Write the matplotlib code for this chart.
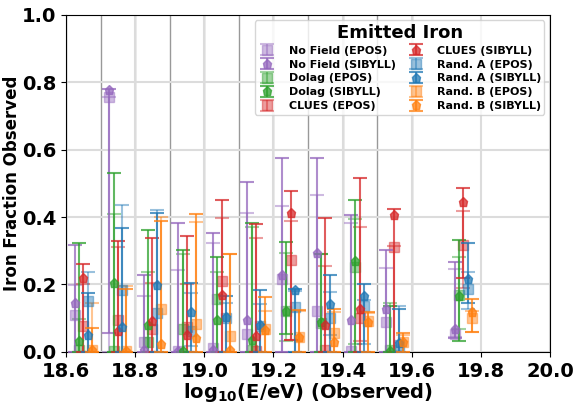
import numpy as np
import matplotlib
matplotlib.use("Agg")
import matplotlib.pyplot as plt

# bin centres (log10 E/eV) and bin edges drawn as vertical lines
centers = [18.65, 18.75, 18.85, 18.95, 19.05, 19.15, 19.25, 19.35, 19.45, 19.55, 19.75]
edges = [18.6, 18.7, 18.8, 18.9, 19.0, 19.1, 19.2, 19.3, 19.4, 19.5, 19.6]

models = ['No Field', 'Dolag', 'CLUES', 'Rand. A', 'Rand. B']
colors = ['tab:purple', 'tab:green', 'tab:red', 'tab:blue', 'tab:orange']

# fraction, lower bound, upper bound for each model / hadronic model
nf_epos = [0.109, 0.756, 0.030, 0.003, 0.011, 0.054, 0.215, 0.121, 0.003, 0.089, 0.052]
nf_epos_lo = [0.0, 0.0, 0.0, 0.0, 0.0, 0.0, 0.0, 0.0, 0.0, 0.0, 0.043]
nf_epos_hi = [0.197, 0.757, 0.166, 0.243, 0.324, 0.413, 0.434, 0.464, 0.383, 0.248, 0.247]
nf_sib = [0.146, 0.778, 0.006, 0.003, 0.004, 0.095, 0.229, 0.294, 0.094, 0.128, 0.069]
nf_sib_lo = [0.0, 0.057, 0.0, 0.0, 0.0, 0.0, 0.0, 0.0, 0.0, 0.0, 0.040]
nf_sib_hi = [0.317, 0.779, 0.228, 0.381, 0.352, 0.505, 0.574, 0.576, 0.406, 0.302, 0.267]

do_epos = [0.005, 0.003, 0.030, 0.067, 0.156, 0.005, 0.120, 0.086, 0.253, 0.004, 0.170]
do_epos_lo = [0.0, 0.0, 0.0, 0.0, 0.0, 0.0, 0.032, 0.0, 0.023, 0.0, 0.067]
do_epos_hi = [0.098, 0.410, 0.237, 0.289, 0.237, 0.371, 0.292, 0.290, 0.393, 0.144, 0.280]
do_sib = [0.032, 0.205, 0.080, 0.003, 0.095, 0.034, 0.121, 0.089, 0.270, 0.003, 0.166]
do_sib_lo = [0.0, 0.0, 0.0, 0.0, 0.0, 0.0, 0.053, 0.0, 0.0, 0.0, 0.033]
do_sib_hi = [0.322, 0.532, 0.363, 0.302, 0.281, 0.383, 0.326, 0.291, 0.452, 0.136, 0.332]

cl_epos = [0.078, 0.095, 0.069, 0.074, 0.210, 0.003, 0.274, 0.004, 0.099, 0.312, 0.316]
cl_epos_lo = [0.0, 0.0, 0.0, 0.0, 0.0, 0.0, 0.035, 0.0, 0.033, 0.0, 0.188]
cl_epos_hi = [0.202, 0.312, 0.204, 0.200, 0.398, 0.337, 0.389, 0.254, 0.371, 0.313, 0.418]
cl_sib = [0.218, 0.062, 0.090, 0.049, 0.169, 0.047, 0.413, 0.079, 0.126, 0.405, 0.445]
cl_sib_lo = [0.0, 0.0, 0.0, 0.0, 0.0, 0.0, 0.035, 0.0, 0.0, 0.0, 0.220]
cl_sib_hi = [0.262, 0.329, 0.337, 0.343, 0.450, 0.380, 0.476, 0.396, 0.516, 0.425, 0.485]

ra_epos = [0.152, 0.184, 0.114, 0.062, 0.100, 0.077, 0.134, 0.099, 0.136, 0.021, 0.186]
ra_epos_lo = [0.0, 0.0, 0.0, 0.016, 0.0, 0.0, 0.0, 0.050, 0.023, 0.0, 0.126]
ra_epos_hi = [0.237, 0.437, 0.420, 0.176, 0.144, 0.142, 0.180, 0.178, 0.153, 0.136, 0.237]
ra_sib = [0.050, 0.075, 0.197, 0.118, 0.102, 0.079, 0.184, 0.142, 0.166, 0.026, 0.215]
ra_sib_lo = [0.0, 0.0, 0.0, 0.0, 0.0, 0.0, 0.0, 0.0, 0.0, 0.0, 0.146]
ra_sib_hi = [0.175, 0.368, 0.413, 0.205, 0.166, 0.183, 0.185, 0.227, 0.200, 0.128, 0.324]

rb_epos = [0.005, 0.003, 0.126, 0.082, 0.046, 0.069, 0.045, 0.057, 0.090, 0.030, 0.099]
rb_epos_lo = [0.0, 0.0, 0.0, 0.0, 0.0, 0.0, 0.0, 0.0, 0.0, 0.0, 0.060]
rb_epos_hi = [0.145, 0.195, 0.400, 0.385, 0.290, 0.121, 0.121, 0.117, 0.115, 0.050, 0.121]
rb_sib = [0.005, 0.003, 0.023, 0.040, 0.004, 0.065, 0.043, 0.028, 0.089, 0.030, 0.117]
rb_sib_lo = [0.0, 0.0, 0.0, 0.0, 0.0, 0.0, 0.0, 0.0, 0.0, 0.0, 0.059]
rb_sib_hi = [0.070, 0.187, 0.388, 0.410, 0.289, 0.163, 0.123, 0.128, 0.118, 0.055, 0.158]

epos = [(nf_epos, nf_epos_lo, nf_epos_hi), (do_epos, do_epos_lo, do_epos_hi),
        (cl_epos, cl_epos_lo, cl_epos_hi), (ra_epos, ra_epos_lo, ra_epos_hi),
        (rb_epos, rb_epos_lo, rb_epos_hi)]
sibyll = [(nf_sib, nf_sib_lo, nf_sib_hi), (do_sib, do_sib_lo, do_sib_hi),
          (cl_sib, cl_sib_lo, cl_sib_hi), (ra_sib, ra_sib_lo, ra_sib_hi),
          (rb_sib, rb_sib_lo, rb_sib_hi)]
offsets = [-0.025, -0.0125, 0.0, 0.0125, 0.025]

fig = plt.figure(figsize=(5.74, 4.03), dpi=100)
ax = fig.add_axes([0.115, 0.127, 0.843, 0.836])

ax.grid(True, color='#dcdcdc', lw=1.5, zorder=0)
for e in edges:
    ax.axvline(e, color='gray', lw=1, alpha=0.8, zorder=1)

handles = []
labels = []
for i in range(5):
    x = np.array(centers) + offsets[i]
    v, lo, hi = [np.array(a) for a in epos[i]]
    h1 = ax.errorbar(x, v, yerr=[v - lo, hi - v], fmt='s', color=colors[i], alpha=0.45,
                     ms=6.5, capsize=5, elinewidth=1.5, capthick=1.5, zorder=3)
    v, lo, hi = [np.array(a) for a in sibyll[i]]
    h2 = ax.errorbar(x, v, yerr=[v - lo, hi - v], fmt='p', color=colors[i], alpha=0.75,
                     ms=6.5, capsize=5, elinewidth=1.5, capthick=1.5, zorder=4)
    handles += [h1, h2]
    labels += [models[i] + ' (EPOS)', models[i] + ' (SIBYLL)']

ax.set_xlim(18.6, 20.0)
ax.set_ylim(0.0, 1.0)
ax.set_xticks([18.6, 18.8, 19.0, 19.2, 19.4, 19.6, 19.8, 20.0])
ax.set_yticks([0.0, 0.2, 0.4, 0.6, 0.8, 1.0])
for t in ax.get_xticklabels() + ax.get_yticklabels():
    t.set_fontweight('bold')
    t.set_fontsize(14)
ax.set_xlabel(r'$\mathbf{log_{10}}$(E/eV) (Observed)', fontsize=14, fontweight='bold', labelpad=0)
ax.set_ylabel('Iron Fraction Observed', fontsize=12, fontweight='bold', labelpad=1)

leg = ax.legend(handles, labels, ncol=2, loc='upper right', title='Emitted Iron',
                prop={'weight': 'bold', 'size': 8}, columnspacing=1.0,
                handlelength=1.6, handletextpad=1.1, labelspacing=0.35, borderpad=0.3)
leg.get_title().set_fontweight('bold')
leg.get_title().set_fontsize(13)

fig.savefig('out.png', dpi=100)
